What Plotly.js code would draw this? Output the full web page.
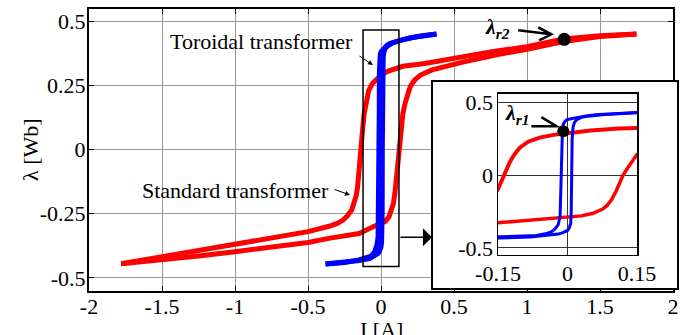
<!DOCTYPE html>
<html><head><meta charset="utf-8">
<script src="https://cdn.plot.ly/plotly-3.0.1.min.js"></script>
<style>html,body{margin:0;padding:0;background:#fff}#chart{width:683px;height:335px}</style>
</head><body><div id="chart"></div>
<script>
// Standard transformer: descending-current branch (I [A], lambda [Wb])
const stdDownI = [1.75,1.5,1.25,1.0,0.75,0.56,0.3,0.15,0.11,0.05,0.0,-0.03,-0.06,-0.085,-0.103,-0.115,-0.125,-0.131,-0.14,-0.15,-0.16,-0.17,-0.185,-0.2,-0.23,-0.26,-0.3,-0.35,-0.5,-0.75,-1.0,-1.25,-1.5,-1.78];
const stdDownL = [0.45,0.443,0.43,0.40,0.38,0.36,0.335,0.324,0.318,0.305,0.29,0.275,0.256,0.228,0.187,0.14,0.085,0.04,-0.03,-0.097,-0.145,-0.18,-0.215,-0.235,-0.258,-0.275,-0.288,-0.298,-0.32,-0.345,-0.37,-0.395,-0.42,-0.445];
// Standard transformer: ascending-current branch
const stdUpI = [-1.78,-1.5,-1.25,-1.0,-0.75,-0.5,-0.35,-0.15,-0.05,0.0,0.03,0.055,0.075,0.085,0.095,0.105,0.113,0.12,0.13,0.142,0.15,0.165,0.18,0.2,0.23,0.27,0.35,0.45,0.56,0.8,1.0,1.25,1.5,1.75];
const stdUpL = [-0.445,-0.43,-0.415,-0.398,-0.38,-0.362,-0.345,-0.327,-0.30,-0.29,-0.28,-0.262,-0.235,-0.21,-0.17,-0.11,-0.05,0.0,0.05,0.11,0.14,0.18,0.21,0.245,0.27,0.29,0.31,0.325,0.34,0.37,0.39,0.42,0.44,0.45];
// Toroidal transformer: descending branch
const torDownI = [0.38,0.3,0.25,0.2,0.15,0.1,0.06,0.04,0.02,0.01,0.0,-0.005,-0.009,-0.011,-0.012,-0.013,-0.014,-0.016,-0.02,-0.027,-0.035,-0.045,-0.067,-0.1,-0.15,-0.25,-0.38];
const torDownL = [0.45,0.445,0.44,0.435,0.428,0.42,0.413,0.405,0.395,0.388,0.38,0.37,0.35,0.3,0.15,0.0,-0.15,-0.28,-0.34,-0.37,-0.39,-0.40,-0.415,-0.422,-0.43,-0.44,-0.446];
// Toroidal transformer: ascending branch
const torUpI = [-0.38,-0.25,-0.15,-0.08,-0.04,-0.02,-0.01,0.0,0.004,0.007,0.008,0.009,0.010,0.012,0.015,0.02,0.03,0.05,0.08,0.15,0.25,0.38];
const torUpL = [-0.446,-0.44,-0.432,-0.425,-0.415,-0.405,-0.395,-0.38,-0.36,-0.33,-0.25,0.0,0.25,0.33,0.36,0.38,0.395,0.405,0.415,0.427,0.44,0.45];
// Remanent flux points
const lambdaR2I = [1.255];
const lambdaR2L = [0.429];
const lambdaR1I = [-0.009];
const lambdaR1L = [0.30];
// Tick labels
const xTickVals = [-2,-1.5,-1,-0.5,0,0.5,1,1.5,2];
const xTickText = ['-2','-1.5','-1','-0.5','0','0.5','1','1.5','2'];
const yTickVals = [-0.5,-0.25,0,0.25,0.5];
const yTickText = ['-0.5','-0.25','0','0.25','0.5'];
const insetXTickVals = [-0.15,0,0.15];
const insetXTickText = ['-0.15','0','0.15'];
const insetYTickVals = [-0.5,0,0.5];
const insetYTickText = ['-0.5','0','0.5'];

const FONT = 'Liberation Serif';
const RED = '#ff0000', BLUE = '#0000ff';
function tf(size) { return {family: FONT, size: size || 22, color: '#000'}; }

function line(x, y, color, width, xa, ya) {
  return {x: x, y: y, type: 'scatter', mode: 'lines', xaxis: xa, yaxis: ya,
          line: {color: color, width: width}, hoverinfo: 'skip'};
}
const data = [
  line(stdDownI, stdDownL, RED, 5, 'x', 'y'),
  line(stdUpI, stdUpL, RED, 5, 'x', 'y'),
  line(torDownI, torDownL, BLUE, 5, 'x', 'y'),
  line(torUpI, torUpL, BLUE, 5, 'x', 'y'),
  {x: lambdaR2I, y: lambdaR2L, type: 'scatter', mode: 'markers', xaxis: 'x', yaxis: 'y',
   marker: {color: '#000', size: 13}},
  {x: [], y: [], type: 'scatter', mode: 'lines', xaxis: 'x2', yaxis: 'y2'},
  line(stdDownI, stdDownL, RED, 4, 'x3', 'y3'),
  line(stdUpI, stdUpL, RED, 3.5, 'x3', 'y3'),
  line(torDownI, torDownL, BLUE, 3, 'x3', 'y3'),
  line(torUpI, torUpL, BLUE, 3, 'x3', 'y3'),
  {x: lambdaR1I, y: lambdaR1L, type: 'scatter', mode: 'markers', xaxis: 'x3', yaxis: 'y3',
   marker: {color: '#000', size: 12}}
];

const layout = {
  width: 683, height: 335,
  margin: {l: 89, r: 6, t: 9, b: 44, pad: 0},
  paper_bgcolor: '#fff', plot_bgcolor: '#fff',
  showlegend: false,
  font: tf(22),
  xaxis: {domain: [0, 0.9932], range: [-2, 2], tickmode: 'array', tickvals: xTickVals, ticktext: xTickText,
          ticks: 'inside', ticklen: 5, tickcolor: '#000', showline: true, linecolor: '#000', linewidth: 2,
          mirror: 'ticks', showgrid: true, gridcolor: '#999', gridwidth: 1, zeroline: false,
          ticklabelstandoff: -5, tickfont: tf(22)},
  yaxis: {domain: [0, 1], range: [-0.551, 0.547], tickmode: 'array', tickvals: yTickVals, ticktext: yTickText,
          ticks: 'inside', ticklen: 5, tickcolor: '#000', showline: true, linecolor: '#000', linewidth: 2,
          mirror: 'ticks', showgrid: true, gridcolor: '#999', gridwidth: 1, zeroline: false,
          ticklabelstandoff: -3, tickfont: tf(22)},
  xaxis2: {domain: [0.585, 1.0], anchor: 'y2', range: [0, 1], showline: true, mirror: true, linecolor: '#000',
           linewidth: 2, showgrid: false, zeroline: false, showticklabels: false, ticks: '', fixedrange: true},
  yaxis2: {domain: [0.0106, 0.7411], anchor: 'x2', range: [0, 1], showline: true, mirror: true, linecolor: '#000',
           linewidth: 2, showgrid: false, zeroline: false, showticklabels: false, ticks: '', fixedrange: true},
  xaxis3: {domain: [0.6956, 0.9320], anchor: 'y3', range: [-0.15, 0.15], tickmode: 'array',
           tickvals: insetXTickVals, ticktext: insetXTickText, ticks: '', showline: true, mirror: true,
           linecolor: '#000', linewidth: 1.5, showgrid: true, gridcolor: '#333', gridwidth: 1, zeroline: false,
           ticklabelstandoff: -2, tickfont: tf(22)},
  yaxis3: {domain: [0.1277, 0.6986], anchor: 'x3', range: [-0.548, 0.555], tickmode: 'array',
           tickvals: insetYTickVals, ticktext: insetYTickText, ticks: '', showline: true, mirror: true,
           linecolor: '#000', linewidth: 1.5, showgrid: true, gridcolor: '#333', gridwidth: 1, zeroline: false,
           ticklabelstandoff: -1, tickfont: tf(22)},
  shapes: [
    {type: 'rect', xref: 'x', yref: 'y', x0: -0.123, x1: 0.123, y0: -0.456, y1: 0.465,
     line: {color: '#000', width: 1.5}, layer: 'above'},
    {type: 'path', xref: 'x', yref: 'y', xsizemode: 'pixel', ysizemode: 'pixel',
     xanchor: lambdaR2I[0], yanchor: lambdaR2L[0],
     path: 'M-46,9 L-13,5 M-26,12 L-13,5 L-25,-1', line: {color: '#000', width: 2.6}, layer: 'above'},
    {type: 'path', xref: 'x3', yref: 'y3', xsizemode: 'pixel', ysizemode: 'pixel',
     xanchor: lambdaR1I[0], yanchor: lambdaR1L[0],
     path: 'M-32,5 L-7,5 L-22,14', line: {color: '#000', width: 2.6}, layer: 'above'}
  ],
  annotations: [
    {xref: 'paper', yref: 'paper', x: -0.1003, y: 0.5, xanchor: 'center', yanchor: 'middle',
     textangle: -90, showarrow: false, text: 'λ [Wb]', font: tf(22)},
    {xref: 'paper', yref: 'paper', x: 0.4966, y: -0.1348, xanchor: 'center', yanchor: 'middle',
     showarrow: false, text: 'I [A]', font: tf(22)},
    {xref: 'x', yref: 'y', x: -1.459, y: 0.42, xanchor: 'left', yanchor: 'middle', showarrow: false,
     text: 'Toroidal transformer', font: tf(22)},
    {xref: 'x', yref: 'y', x: -0.055, y: 0.329, ax: -18, ay: -12, showarrow: true, text: ' ',
     arrowhead: 2, arrowsize: 1, arrowwidth: 1, arrowcolor: '#000'},
    {xref: 'x', yref: 'y', x: -1.651, y: -0.158, xanchor: 'left', yanchor: 'middle', showarrow: false,
     text: 'Standard transformer', font: tf(22)},
    {xref: 'x', yref: 'y', x: -0.212, y: -0.177, ax: -20, ay: -7, showarrow: true, text: ' ',
     arrowhead: 2, arrowsize: 1, arrowwidth: 1, arrowcolor: '#000'},
    {xref: 'x', yref: 'y', x: 0.349, y: -0.342, ax: -36, ay: 0, showarrow: true, text: ' ',
     arrowhead: 1, arrowsize: 2, arrowwidth: 1.5, arrowcolor: '#000'},
    {xref: 'x', yref: 'y', x: 0.699, y: 0.473, xanchor: 'left', yanchor: 'middle', showarrow: false,
     text: '<b><i>λ</i></b><sub><b><i>r2</i></b></sub>', font: tf(22)},
    {xref: 'x3', yref: 'y3', x: -0.139, y: 0.417, xanchor: 'left', yanchor: 'middle', showarrow: false,
     text: '<b><i>λ</i></b><sub><b><i>r1</i></b></sub>', font: tf(22)}
  ]
};
Plotly.newPlot('chart', data, layout, {staticPlot: true, displayModeBar: false});
</script></body></html>
